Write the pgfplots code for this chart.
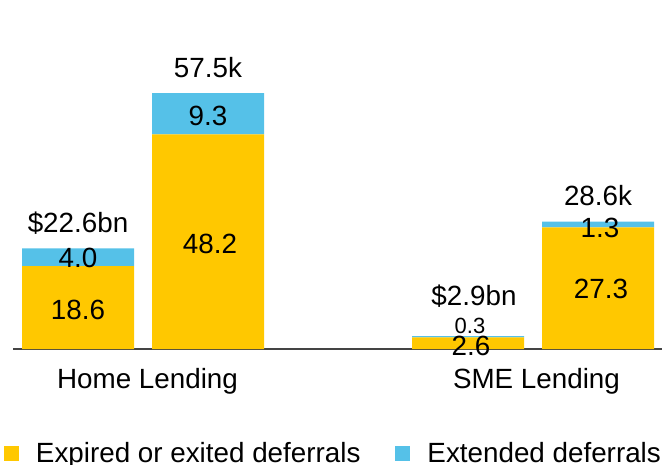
\documentclass[border=0pt]{standalone}
\usepackage{pgfplots}
\pgfplotsset{compat=1.18}
\usepackage{fontspec}
\setmainfont{Liberation Sans}
\definecolor{cyel}{HTML}{FFC800}
\definecolor{cblu}{HTML}{55C1E8}
\definecolor{cline}{HTML}{444444}
\newcommand{\bigfont}{\fontsize{27.8}{33}\selectfont}
\tikzset{lbl/.style={font=\bigfont, anchor=base, inner sep=0pt}}
\begin{document}
\begin{tikzpicture}
\useasboundingbox (0,0) rectangle (662pt,464pt);
\begin{axis}[
  at={(0,0)}, anchor=south west,
  scale only axis, width=662pt, height=464pt,
  xmin=0, xmax=662, ymin=-25.83, ymax=78.39,
  axis lines=none, clip=false,
  ybar stacked, bar width=112,
  legend columns=2,
  legend image code/.code={\fill[#1] (0pt,1pt) rectangle (15pt,16pt); \path (32pt,0pt);},
  legend style={at={(axis cs:4,-20.9)}, anchor=north west, draw=none, fill=none,
    inner sep=0pt, outer sep=0pt, font=\bigfont,
    nodes={inner sep=0pt, outer sep=0pt}, cells={anchor=base west},
    /tikz/every even column/.append style={column sep=35pt}},
]
\addplot[fill=cyel, draw=none] coordinates {(78,18.6) (208,48.2) (468,2.6) (598,27.3)};
\addlegendentry{Expired or exited deferrals}
\addplot[fill=cblu, draw=none] coordinates {(78,4.0) (208,9.3) (468,0.3) (598,1.3)};
\addlegendentry{Extended deferrals}
\draw[cline, line width=1.3pt] (axis cs:13,0) -- (axis cs:662,0);
\coordinate (b1) at (axis cs:78,0);
\coordinate (b2) at (axis cs:208,0);
\coordinate (b3) at (axis cs:468,0);
\coordinate (b4) at (axis cs:598,0);
\end{axis}
\node[lbl] at ([yshift=117pt]b1) {\$22.6bn};
\node[lbl] at ([yshift=82pt]b1) {4.0};
\node[lbl] at ([yshift=30pt]b1) {18.6};
\node[lbl] at ([yshift=272pt]b2) {57.5k};
\node[lbl] at ([yshift=224pt]b2) {9.3};
\node[lbl] at ([xshift=2pt,yshift=96pt]b2) {48.2};
\node[lbl] at ([yshift=144pt]b4) {28.6k};
\node[lbl] at ([xshift=2pt,yshift=112pt]b4) {1.3};
\node[lbl] at ([xshift=3pt,yshift=51pt]b4) {27.3};
\node[lbl] at ([xshift=6pt,yshift=44pt]b3) {\$2.9bn};
\node[lbl, font=\fontsize{22}{26}\selectfont] at ([xshift=2pt,yshift=16pt]b3) {0.3};
\node[lbl] at ([xshift=3pt,yshift=-6pt]b3) {2.6};
\node[lbl] at ([xshift=69.5pt,yshift=-39pt]b1) {Home Lending};
\node[lbl] at ([xshift=68.5pt,yshift=-39pt]b3) {SME Lending};
\end{tikzpicture}
\end{document}
